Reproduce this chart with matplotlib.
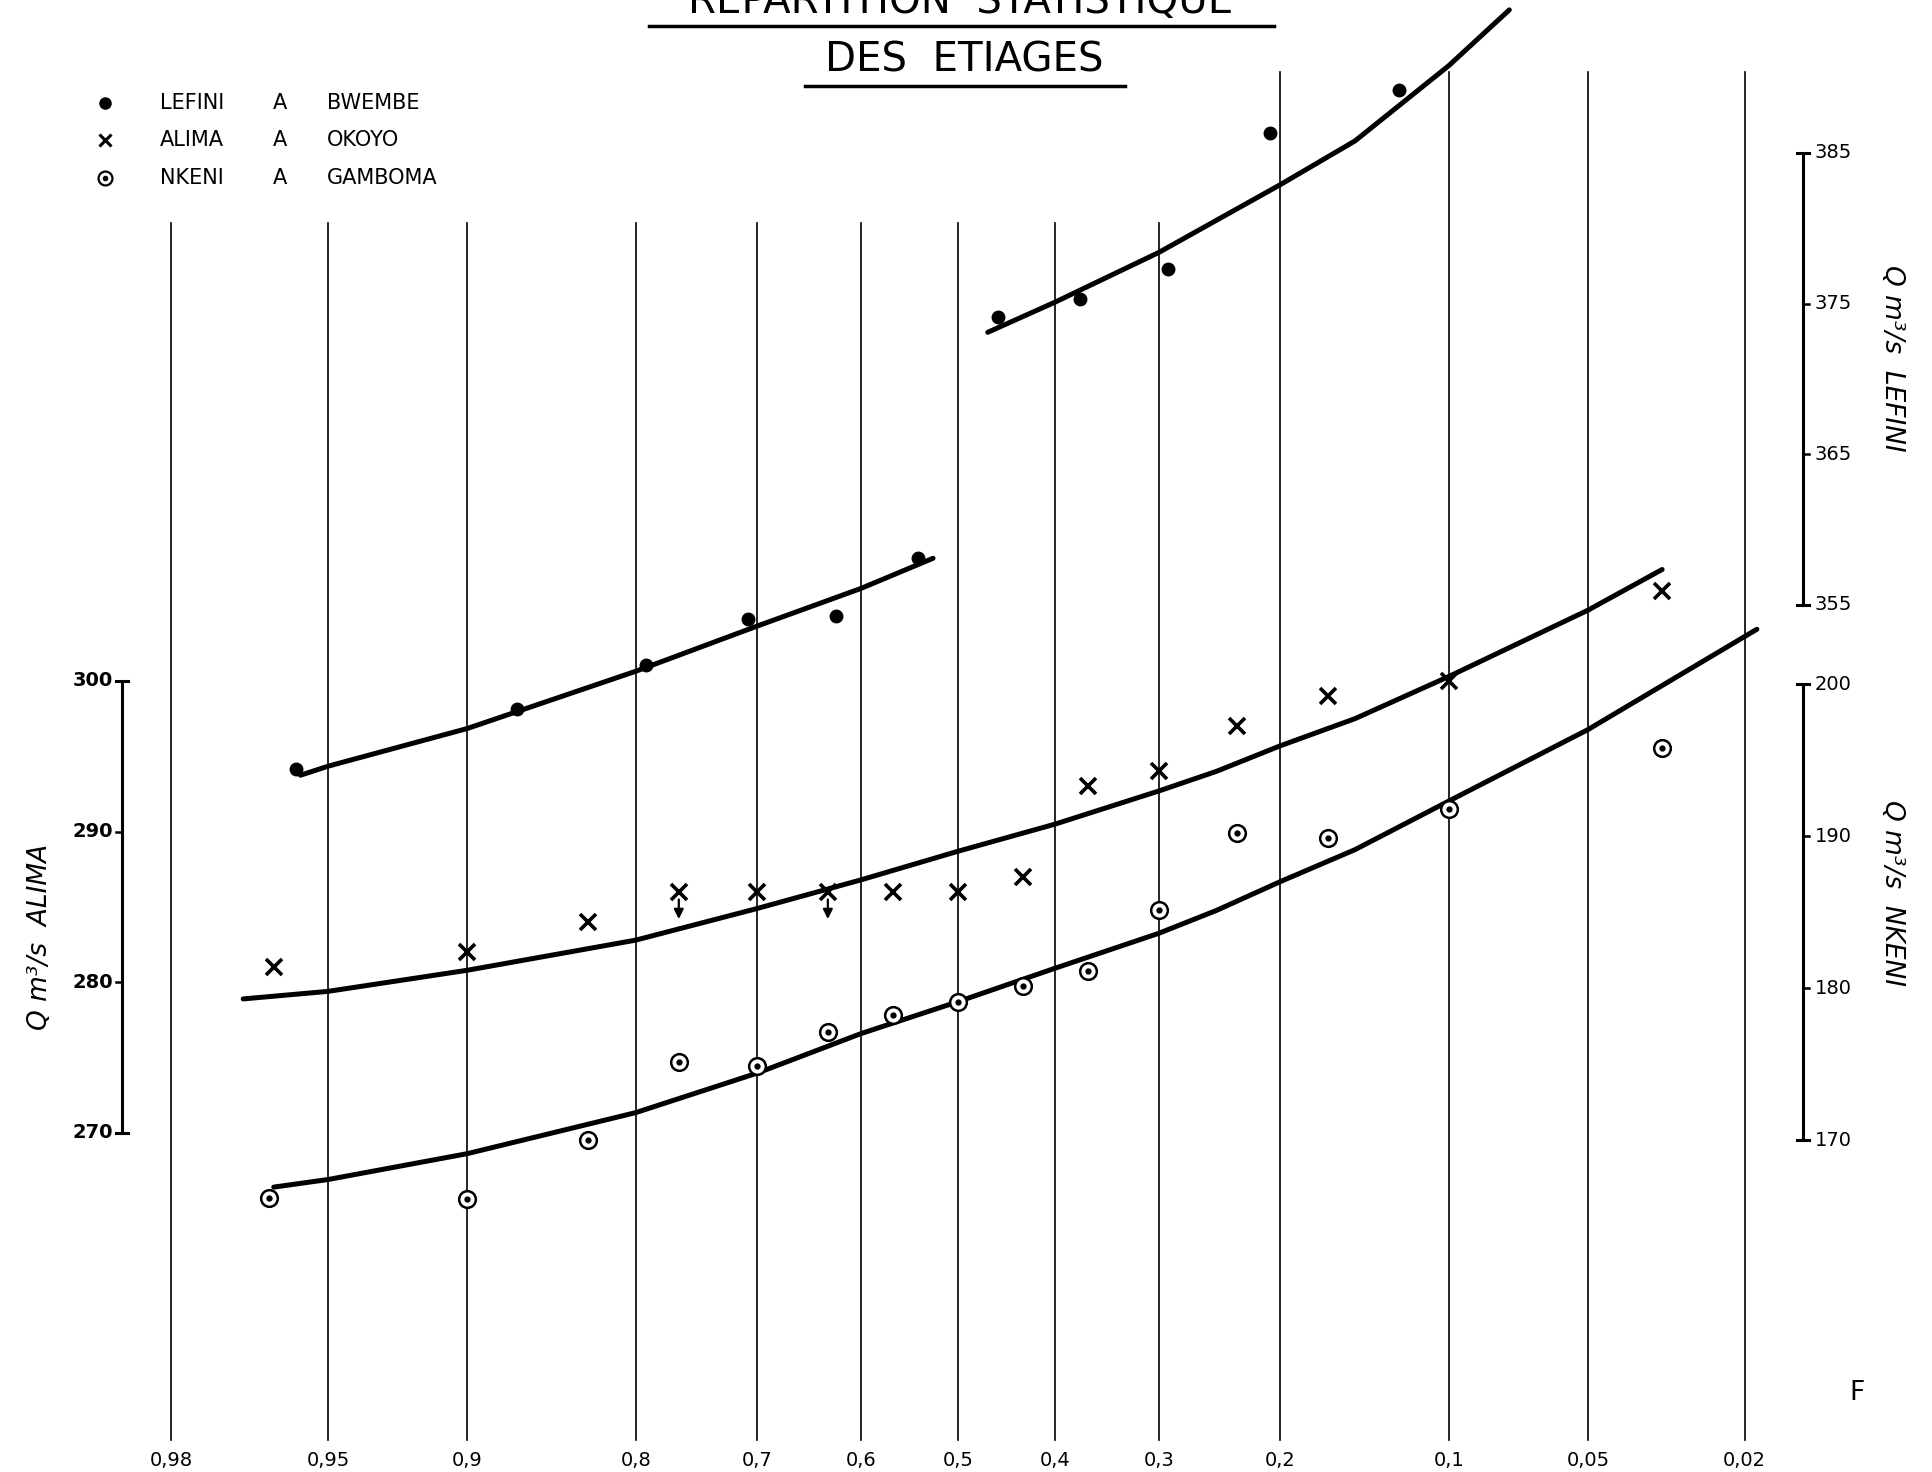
import matplotlib
matplotlib.use("Agg")
import matplotlib.pyplot as plt
from matplotlib import font_manager
from matplotlib.lines import Line2D
from matplotlib.transforms import blended_transform_factory
from statistics import NormalDist

# --- données ---
f_grille = [0.98, 0.95, 0.9, 0.8, 0.7, 0.6, 0.5, 0.4, 0.3, 0.2, 0.1, 0.05, 0.02]
lab_grille = ["0,98", "0,95", "0,9", "0,8", "0,7", "0,6", "0,5",
              "0,4", "0,3", "0,2", "0,1", "0,05", "0,02"]
grandes = [0.2, 0.1, 0.05, 0.02]   # lignes qui montent plus haut

f_alima = [0.963, 0.90, 0.833, 0.767, 0.70, 0.633, 0.567, 0.50,
           0.433, 0.367, 0.30, 0.233, 0.167, 0.10, 0.033]
q_alima = [281, 282, 284, 286, 286, 286, 286, 286,
           287, 293, 294, 297, 299, 300, 306]
f_fleches = [0.767, 0.633]
q_fleches = [286, 286]

f_nkeni = [0.964, 0.90, 0.833, 0.767, 0.70, 0.633, 0.567, 0.50,
           0.433, 0.367, 0.30, 0.233, 0.167, 0.10, 0.033]
q_nkeni = [166.2, 166.1, 170, 175.1, 174.9, 177.1, 178.2, 179.1,
           180.1, 181.1, 185.1, 190.2, 189.9, 191.8, 195.8]

f_lefini = [0.958, 0.875, 0.792, 0.708, 0.625, 0.542,
            0.458, 0.375, 0.292, 0.208, 0.125]
q_lefini = [344.1, 348.1, 351.0, 354.1, 354.3, 358.1,
            374.1, 375.3, 377.3, 386.3, 389.2]

# courbes tracées à la main
c_alima_f = [0.969, 0.95, 0.9, 0.8, 0.7, 0.6, 0.5, 0.4, 0.3, 0.25, 0.2, 0.15, 0.1, 0.05, 0.033]
c_alima_q = [278.9, 279.4, 280.8, 282.8, 284.9, 286.8, 288.7, 290.5, 292.7, 294.0, 295.7, 297.5,
             300.3, 304.7, 307.4]
c_nkeni_f = [0.963, 0.95, 0.9, 0.8, 0.7, 0.6, 0.5, 0.4, 0.3, 0.25, 0.2, 0.15, 0.1, 0.05, 0.0185]
c_nkeni_q = [166.9, 167.4, 169.1, 171.8, 174.4, 177.0, 179.1, 181.3, 183.6, 185.1, 187.0, 189.1,
             192.3, 197.0, 203.6]
c_lef1_f = [0.957, 0.95, 0.9, 0.8, 0.7, 0.6, 0.526]
c_lef1_q = [343.7, 344.3, 346.8, 350.6, 353.6, 356.1, 358.1]
c_lef2_f = [0.469, 0.4, 0.3, 0.2, 0.15, 0.1, 0.075]
c_lef2_q = [373.1, 375.1, 378.4, 382.9, 385.8, 390.8, 394.5]

ticks_alima = [270, 280, 290, 300]
ticks_lefini = [355, 365, 375, 385]
ticks_nkeni = [170, 180, 190, 200]

W, H = 1933, 1472
nd = NormalDist()


def gauss(F):
    return [nd.inv_cdf(1 - f) for f in F]


def fx(x):
    return x / W


def fy(y):
    return 1 - y / H


# police étroite si disponible
try:
    font_manager.findfont("Liberation Sans Narrow", fallback_to_default=False)
    narrow = "Liberation Sans Narrow"
except Exception:
    narrow = "DejaVu Sans"

fig = plt.figure(figsize=(W / 100, H / 100), dpi=100)
ax = fig.add_axes([0, 0, 1, 1])
ax_l = ax.twinx()
ax_n = ax.twinx()
for a in (ax, ax_l, ax_n):
    a.axis("off")
    a.patch.set_visible(False)


def ylim_px(a, v1, p1, v2, p2):
    # échelle verticale: valeur v1 au pixel p1, v2 au pixel p2
    s = (v1 - v2) / (p2 - p1)
    a.set_ylim(v1 - (H - p1) * s, v1 + p1 * s)


ax.set_xlim((0 - 958) / 383, (W - 958) / 383)
ylim_px(ax, 300, 681, 270, 1133)
ylim_px(ax_l, 385, 153, 355, 605)
ylim_px(ax_n, 200, 684, 170, 1140)

# lignes verticales de probabilité
tx = ax.get_xaxis_transform()
for f, lab in zip(f_grille, lab_grille):
    x = gauss([f])[0]
    top = fy(72) if f in grandes else fy(223)
    ax.plot([x, x], [fy(1440), top], color="k", lw=1.2, transform=tx)
    ax.text(x, fy(1460), lab, transform=tx, ha="center", va="center",
            fontsize=14, family=narrow)
fig.text(fx(1857), fy(1393), "F", fontsize=19, ha="center", va="center")

# courbes
kw = dict(color="k", lw=3.6, solid_capstyle="round", solid_joinstyle="round")
ax.plot(gauss(c_alima_f), c_alima_q, **kw)
ax_n.plot(gauss(c_nkeni_f), c_nkeni_q, **kw)
ax_l.plot(gauss(c_lef1_f), c_lef1_q, **kw)
ax_l.plot(gauss(c_lef2_f), c_lef2_q, **kw)

# points
ax.plot(gauss(f_alima), q_alima, "x", color="k", ms=11, mew=2.6)
for f, q in zip(f_fleches, q_fleches):
    x = gauss([f])[0]
    ax.annotate("", xy=(x, q - 1.8), xytext=(x, q - 0.5),
                arrowprops=dict(arrowstyle="-|>", color="k", lw=1.6,
                                mutation_scale=14, shrinkA=0, shrinkB=0))
ax_n.plot(gauss(f_nkeni), q_nkeni, "o", mfc="white", mec="k", ms=12, mew=1.8)
ax_n.plot(gauss(f_nkeni), q_nkeni, "o", color="k", ms=3.5)
ax_l.plot(gauss(f_lefini), q_lefini, "o", color="k", ms=9)


# échelles verticales
def echelle(a, ticks, xb, gauche, label, xlab, ylab, rot, bold):
    tr = blended_transform_factory(fig.transFigure, a.transData)
    xb = fx(xb)
    d = fx(6)
    a.plot([xb, xb], [ticks[0], ticks[-1]], color="k", lw=2.2, transform=tr, clip_on=False)
    for t in ticks:
        if t in (ticks[0], ticks[-1]):
            a.plot([xb - d, xb + d], [t, t], color="k", lw=2.2, transform=tr, clip_on=False)
        else:
            xs = [xb - d, xb] if gauche else [xb, xb + d]
            a.plot(xs, [t, t], color="k", lw=1.8, transform=tr, clip_on=False)
        xt = xb - fx(9) if gauche else xb + fx(12)
        a.text(xt, t, str(t), transform=tr, ha="right" if gauche else "left",
               va="center", fontsize=14, family=narrow,
               fontweight="bold" if bold else "normal")
    fig.text(fx(xlab), fy(ylab), label, rotation=rot, ha="center", va="center",
             fontsize=19, style="italic", rotation_mode="anchor")


echelle(ax, ticks_alima, 122, True, "Q m³/s  ALIMA", 40, 937, 90, True)
echelle(ax_l, ticks_lefini, 1803, False, "Q m³/s  LEFINI", 1892, 358, -90, False)
echelle(ax_n, ticks_nkeni, 1803, False, "Q m³/s  NKENI", 1892, 893, -90, False)

# titre (la première ligne est coupée en haut, comme sur l'original)
fig.text(fx(961), fy(2), "REPARTITION  STATISTIQUE", ha="center", va="center", fontsize=29)
fig.text(fx(964), fy(60), "DES  ETIAGES", ha="center", va="center", fontsize=29)
fig.add_artist(Line2D([fx(649), fx(1274)], [fy(26), fy(26)], color="k", lw=2.5))
fig.add_artist(Line2D([fx(805), fx(1125)], [fy(86), fy(86)], color="k", lw=2.5))

# légende
rows = [("LEFINI", "BWEMBE"), ("ALIMA", "OKOYO"), ("NKENI", "GAMBOMA")]
ys = [103, 140, 178]
fig.add_artist(Line2D([fx(105)], [fy(ys[0])], marker="o", color="k", ms=8))
fig.add_artist(Line2D([fx(105)], [fy(ys[1])], marker="x", color="k", ms=9, mew=2.2))
fig.add_artist(Line2D([fx(105)], [fy(ys[2])], marker="o", mfc="white", mec="k", ms=10, mew=1.6))
fig.add_artist(Line2D([fx(105)], [fy(ys[2])], marker="o", color="k", ms=3))
for (a, b), y in zip(rows, ys):
    fig.text(fx(160), fy(y), a, va="center", fontsize=15)
    fig.text(fx(273), fy(y), "A", va="center", fontsize=15)
    fig.text(fx(327), fy(y), b, va="center", fontsize=15)

fig.savefig("out.png", dpi=100, facecolor="white")
